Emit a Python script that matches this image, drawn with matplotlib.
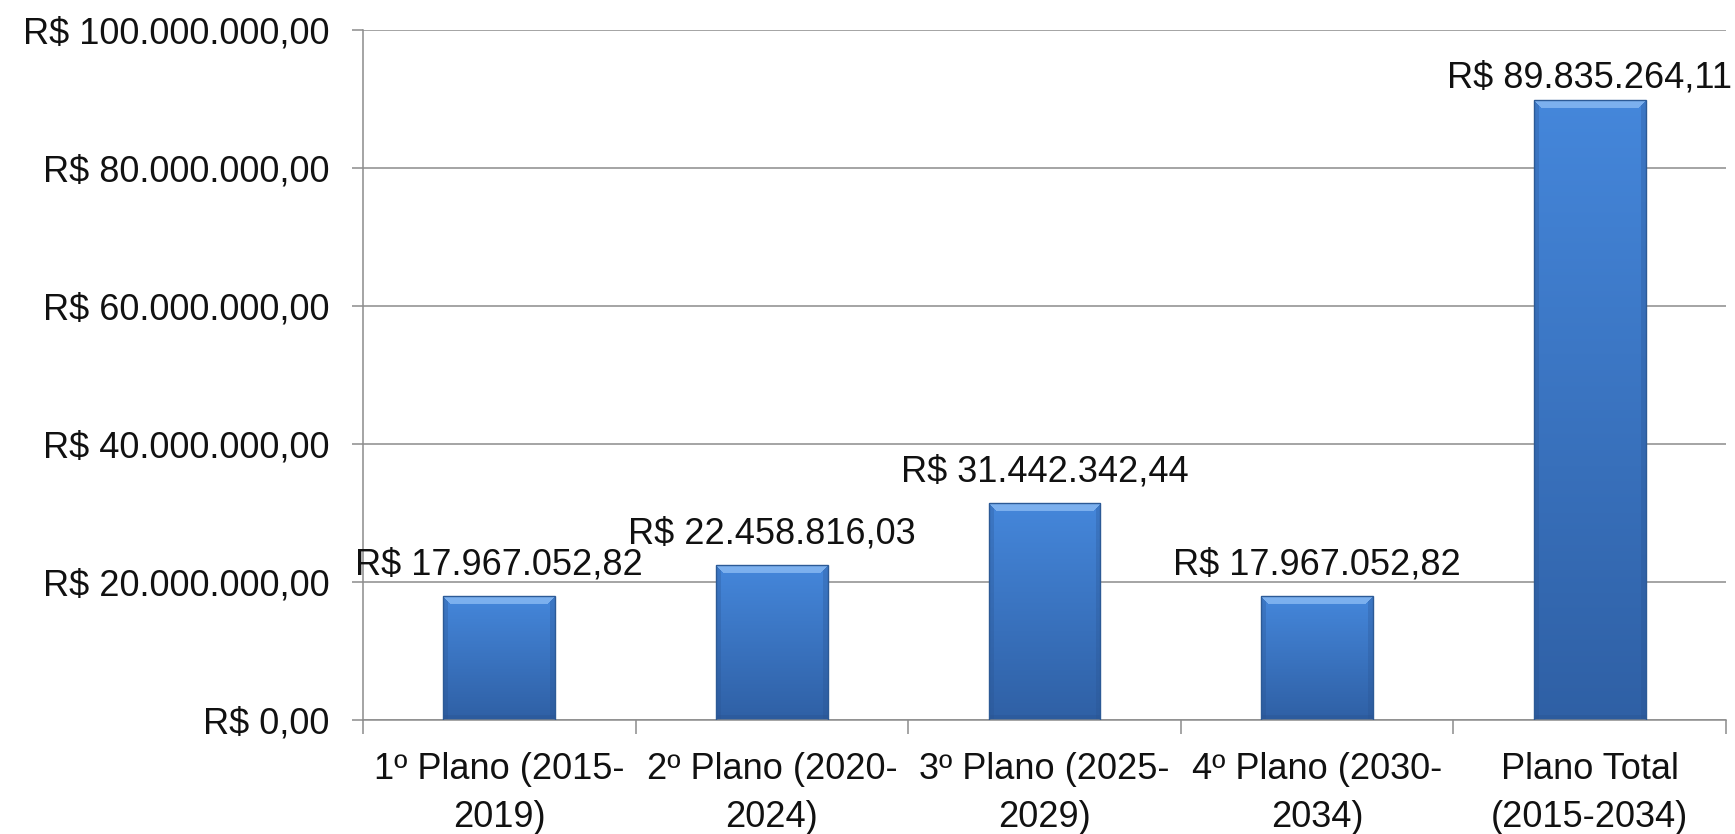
import numpy as np
import matplotlib
matplotlib.use("Agg")
import matplotlib.pyplot as plt
from matplotlib.ticker import FuncFormatter, FixedLocator, NullFormatter

categories = [
    "1º Plano (2015-\n2019)",
    "2º Plano (2020-\n2024)",
    "3º Plano (2025-\n2029)",
    "4º Plano (2030-\n2034)",
    "Plano Total\n(2015-2034)",
]
values = [17967052.82, 22458816.03, 31442342.44, 17967052.82, 89835264.11]
y_ticks = [0, 20e6, 40e6, 60e6, 80e6, 100e6]

# vertical gap (pixels) between bar top and its value label; the tallest
# bar's label is pulled down a little to stay inside the plot frame
label_offset_px = [14, 14, 14, 14, 5]

FONT = "Liberation Sans"
FS = 26


def brl(v, _pos=None):
    s = f"{v:,.2f}"
    s = s.replace(",", "X").replace(".", ",").replace("X", ".")
    return f"R$ {s}"


fig = plt.figure(figsize=(17.35, 8.34), dpi=100)
ax = fig.add_axes([363 / 1735, 1 - 720 / 834, (1726 - 363) / 1735, (720 - 30) / 834])

x = np.arange(len(categories))
bars = ax.bar(x, values, width=0.41, color="#3A74C4", zorder=2)

ax.set_xlim(-0.5, len(categories) - 0.5)
ax.set_ylim(0, 100e6)

# horizontal gridlines
ax.set_yticks(y_ticks)
ax.yaxis.set_major_formatter(FuncFormatter(brl))
ax.grid(axis="y", color="#8c8c8c", linewidth=1.1, zorder=0)
ax.set_axisbelow(True)

# category ticks at the bar centres carry the labels; boundaries get tick marks
ax.set_xticks(x)
ax.set_xticklabels(categories)
ax.xaxis.set_minor_locator(FixedLocator(np.arange(-0.5, len(categories), 1.0)))
ax.xaxis.set_minor_formatter(NullFormatter())
ax.tick_params(axis="x", which="major", length=0, pad=23)
ax.tick_params(axis="x", which="minor", length=10, width=1.1, color="#8c8c8c", direction="out")
ax.tick_params(axis="y", length=8, width=1.1, color="#8c8c8c", direction="out", pad=16)

for lab in ax.get_xticklabels() + ax.get_yticklabels():
    lab.set_fontfamily(FONT)
    lab.set_fontsize(FS)
    lab.set_color("#111111")
for lab in ax.get_xticklabels():
    lab.set_linespacing(1.5)

for s in ["top", "right"]:
    ax.spines[s].set_visible(False)
for s in ["left", "bottom"]:
    ax.spines[s].set_color("#8c8c8c")
    ax.spines[s].set_linewidth(1.1)

# bevelled gradient fill for each bar
fig.canvas.draw()
px_per_unit_y = ax.transData.transform((0, 1e6))[1] - ax.transData.transform((0, 0))[1]
px_per_unit_x = ax.transData.transform((1, 0))[0] - ax.transData.transform((0, 0))[0]

top_c = np.array([0x45, 0x87, 0xDB]) / 255
bot_c = np.array([0x2F, 0x60, 0xA5]) / 255
hi_c = np.array([0x7C, 0xB0, 0xEE]) / 255
edge_c = np.array([0x27, 0x50, 0x8C]) / 255

for b in bars:
    bx, bw, bh = b.get_x(), b.get_width(), b.get_height()
    wpx = int(round(bw * px_per_unit_x))
    hpx = max(int(round(bh / 1e6 * px_per_unit_y)), 2)
    t = np.linspace(1, 0, hpx)[:, None, None]  # 1 at top, 0 at bottom
    img = (bot_c + (top_c - bot_c) * t) * np.ones((hpx, wpx, 1))
    rows, cols = np.mgrid[0:hpx, 0:wpx]
    dist_side = np.minimum(cols, wpx - 1 - cols)
    bev = 8
    side = dist_side < 5
    top = (rows < bev) & (rows <= dist_side)
    bottom = rows >= hpx - 5
    img[side] = img[side] * 0.72 + edge_c * 0.28
    img[bottom] = img[bottom] * 0.7 + edge_c * 0.3
    img[top] = hi_c
    img[0, :] = np.array([0x5A, 0x90, 0xD4]) / 255
    b.set_visible(False)
    ax.imshow(img, extent=(bx, bx + bw, 0, bh), aspect="auto", zorder=2,
              interpolation="bilinear")
    edge = plt.Rectangle((bx, 0), bw, bh, fill=False, edgecolor="#2C5A96",
                         linewidth=1.0, zorder=3)
    ax.add_patch(edge)

ax.set_xlim(-0.5, len(categories) - 0.5)
ax.set_ylim(0, 100e6)

# value labels above the bars
for b, v, dy in zip(bars, values, label_offset_px):
    ax.annotate(brl(v), xy=(b.get_x() + b.get_width() / 2, v),
                xytext=(0, dy), textcoords="offset pixels",
                ha="center", va="bottom", fontfamily=FONT, fontsize=FS,
                color="#111111", annotation_clip=False, zorder=4)

fig.savefig("out.png", dpi=100, facecolor="white")
